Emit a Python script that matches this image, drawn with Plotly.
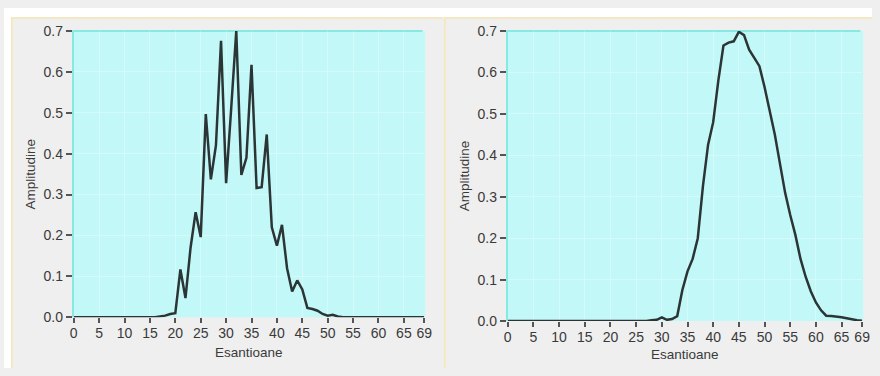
import plotly.graph_objects as go

# Sample index (Esantioane) shared by both panels
samples = list(range(70))

# Left panel: oscillating amplitude response
amp_left = [0.0] * 17 + [
    0.002, 0.004, 0.008, 0.010,            # 17-20
    0.117, 0.047, 0.170, 0.257, 0.196,     # 21-25
    0.497, 0.337, 0.420, 0.676, 0.328,     # 26-30
    0.510, 0.700, 0.348, 0.390, 0.617,     # 31-35
    0.316, 0.318, 0.447, 0.220, 0.175,     # 36-40
    0.226, 0.120, 0.063, 0.090, 0.068,     # 41-45
    0.023, 0.020, 0.016, 0.008, 0.004,     # 46-50
    0.006, 0.002,                          # 51-52
] + [0.0] * 17

# Right panel: smooth amplitude envelope
amp_right = [0.0] * 28 + [
    0.002, 0.003, 0.009, 0.003, 0.005,     # 28-32
    0.012, 0.075, 0.120, 0.150, 0.200,     # 33-37
    0.325, 0.425, 0.480, 0.580, 0.665,     # 38-42
    0.672, 0.675, 0.698, 0.690, 0.655,     # 43-47
    0.635, 0.615, 0.565, 0.510, 0.450,     # 48-52
    0.380, 0.310, 0.256, 0.208, 0.150,     # 53-57
    0.107, 0.072, 0.045, 0.026, 0.013,     # 58-62
    0.012, 0.011, 0.009, 0.007, 0.004,     # 63-67
    0.002, 0.001,                          # 68-69
]

x_ticks = [0, 5, 10, 15, 20, 25, 30, 35, 40, 45, 50, 55, 60, 65, 69]
y_ticks = [0.0, 0.1, 0.2, 0.3, 0.4, 0.5, 0.6, 0.7]
x_title = "Esantioane"
y_title = "Amplitudine"

W, H = 880, 376
LINE = "#2b3535"
CYAN = "#c3f8f8"
CYAN_EDGE = "#86e9e2"
PANEL = "#efefef"
EDGE = "#f4e8c4"
TEXT = "#3a3a3a"
FONT = "Liberation Sans, Arial, sans-serif"
TICK_SIZE = 14
TITLE_SIZE = 13.5

def px_x(p):
    return p / W

def px_y(p):
    return 1 - p / H

fig = go.Figure()
fig.add_trace(go.Scatter(x=samples, y=amp_left, mode="lines", xaxis="x", yaxis="y",
                         line=dict(color=LINE, width=2.5), cliponaxis=False,
                         showlegend=False, hoverinfo="x+y"))
fig.add_trace(go.Scatter(x=samples, y=amp_right, mode="lines", xaxis="x2", yaxis="y2",
                         line=dict(color=LINE, width=2.5), cliponaxis=False,
                         showlegend=False, hoverinfo="x+y"))

GRID = "rgba(255,255,255,0.3)"
xcommon = dict(range=[0, 69], tickmode="array", tickvals=x_ticks,
               ticktext=[str(v) for v in x_ticks], ticks="outside", ticklen=5,
               tickwidth=1.5, tickcolor="#555555", ticklabelstandoff=-2,
               showgrid=True, gridcolor=GRID, gridwidth=1, zeroline=False,
               showline=False, tickfont=dict(family=FONT, size=TICK_SIZE, color=TEXT),
               fixedrange=True)
ycommon = dict(range=[0, 0.7], tickmode="array", tickvals=y_ticks,
               tickformat=".1f", ticks="outside", ticklen=6, tickwidth=1.5,
               tickcolor="#555555", showgrid=True,
               gridcolor=GRID, gridwidth=1, zeroline=False,
               showline=True, linecolor=CYAN_EDGE, linewidth=2,
               tickfont=dict(family=FONT, size=TICK_SIZE, color=TEXT), fixedrange=True)

left_x = [px_x(70.7), px_x(426)]
left_y = [px_y(323), px_y(24)]
right_x = [px_x(510.7), px_x(870)]
right_y = [px_y(327), px_y(24)]

fig.update_layout(
    width=W, height=H,
    margin=dict(l=0, r=0, t=0, b=0),
    paper_bgcolor=PANEL,
    plot_bgcolor="rgba(0,0,0,0)",
    xaxis=dict(domain=left_x, anchor="y", **xcommon),
    yaxis=dict(domain=left_y, anchor="x", **ycommon),
    xaxis2=dict(domain=right_x, anchor="y2", **xcommon),
    yaxis2=dict(domain=right_y, anchor="x2", **ycommon),
)

shapes = []
# white strip along the top and left of the window
shapes.append(dict(type="rect", xref="paper", yref="paper", layer="below",
                   x0=0, x1=1, y0=px_y(10), y1=1, fillcolor="white", line=dict(width=0)))
shapes.append(dict(type="rect", xref="paper", yref="paper", layer="below",
                   x0=0, x1=px_x(7), y0=0, y1=1, fillcolor="white", line=dict(width=0)))
# pale yellow edge on top and left of each panel
for x0, x1 in [(7, 445), (446, 880)]:
    shapes.append(dict(type="line", xref="paper", yref="paper", layer="below",
                       x0=px_x(x0), x1=px_x(x1), y0=px_y(10.5), y1=px_y(10.5),
                       line=dict(color=EDGE, width=2)))
    shapes.append(dict(type="line", xref="paper", yref="paper", layer="below",
                       x0=px_x(x0 + 1), x1=px_x(x0 + 1), y0=0, y1=px_y(10),
                       line=dict(color=EDGE, width=2)))
# cyan plotting areas
for xa, ya in [("x", "y"), ("x2", "y2")]:
    shapes.append(dict(type="rect", xref=f"{xa} domain", yref=f"{ya} domain",
                       layer="below", x0=-0.004, x1=1.003, y0=0, y1=1,
                       fillcolor=CYAN, line=dict(width=0)))
    shapes.append(dict(type="line", xref=f"{xa} domain", yref=f"{ya} domain",
                       layer="below", x0=-0.004, x1=0.995, y0=1, y1=1,
                       line=dict(color=CYAN_EDGE, width=2)))
fig.update_layout(shapes=shapes)

annotations = []
for (xd, yd), y_lab in [((left_x, left_y), 360), ((right_x, right_y), 362)]:
    annotations.append(dict(text=x_title, xref="paper", yref="paper",
                            x=(xd[0] + xd[1]) / 2, y=px_y(y_lab),
                            showarrow=False, xanchor="center", yanchor="middle",
                            font=dict(family=FONT, size=TITLE_SIZE, color=TEXT)))
    annotations.append(dict(text=y_title, xref="paper", yref="paper",
                            x=xd[0] - px_x(44), y=(yd[0] + yd[1]) / 2,
                            textangle=-90, showarrow=False,
                            xanchor="center", yanchor="middle",
                            font=dict(family=FONT, size=TITLE_SIZE, color=TEXT)))
fig.update_layout(annotations=annotations)

fig.write_html("out.html")
